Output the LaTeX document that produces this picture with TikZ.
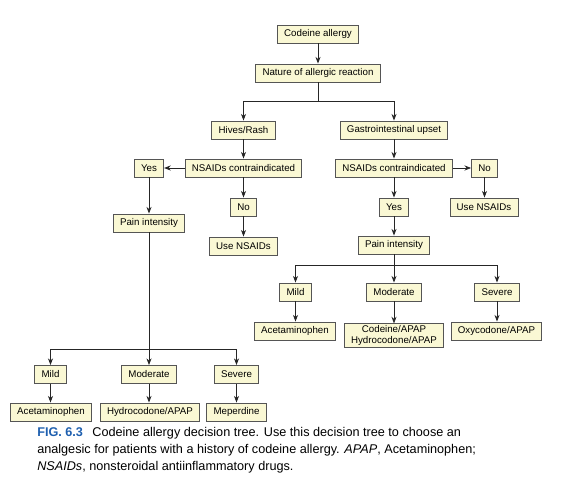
\documentclass[tikz,border=0pt]{standalone}
\usepackage{fontspec}
\setmainfont{Liberation Sans}
\usetikzlibrary{arrows.meta}
\definecolor{boxfill}{RGB}{250,248,212}
\definecolor{boxline}{RGB}{85,85,85}
\definecolor{figblue}{RGB}{30,95,175}

\begin{document}
\begin{tikzpicture}[x=0.75pt,y=-0.75pt,
		box/.style={draw=boxline, fill=boxfill, line width=0.7pt, font=\fontsize{7.3}{8.6}\selectfont, inner xsep=5pt, inner ysep=1pt, minimum height=13.5pt, align=center},
		arr/.style={-{Stealth[length=5pt,width=3.8pt]}, line width=0.6pt, draw=black!85}]
		\useasboundingbox (0,0) rectangle (564,478);
		% top of the tree
		\node[box] (codeine) at (318,34) {Codeine allergy};
		\node[box] (nature) at (318,73) {Nature of allergic reaction};
		\node[box] (hives) at (243.5,130) {Hives/Rash};
		\node[box] (gi) at (394,130) {Gastrointestinal upset};
		\coordinate (split) at (318,101);
		% left branch
		\node[box] (nsaidL) at (243.5,168) {NSAIDs contraindicated};
		\node[box] (yesL) at (149,168) {Yes};
		\node[box] (noL) at (243.5,207) {No};
		\node[box] (useL) at (243.5,246) {Use NSAIDs};
		\node[box] (painL) at (149,223) {Pain intensity};
		\coordinate (splitL) at (149,349);
		\node[box] (mildL) at (50.5,374.5) {Mild};
		\node[box] (modL) at (149,374.5) {Moderate};
		\node[box] (sevL) at (236.5,374.5) {Severe};
		\node[box] (acetL) at (51,412) {Acetaminophen};
		\node[box] (hydroL) at (150,412) {Hydrocodone/APAP};
		\node[box] (mepL) at (236.5,412) {Meperdine};
		% right branch
		\node[box] (nsaidR) at (394,168) {NSAIDs contraindicated};
		\node[box] (noR) at (484.5,168) {No};
		\node[box] (useR) at (484,207) {Use NSAIDs};
		\node[box] (yesR) at (394,207) {Yes};
		\node[box] (painR) at (394,245) {Pain intensity};
		\coordinate (splitR) at (394,265);
		\node[box] (mildR) at (295.5,292) {Mild};
		\node[box] (modR) at (394,292) {Moderate};
		\node[box] (sevR) at (497,292) {Severe};
		\node[box] (acetR) at (295,331) {Acetaminophen};
		\node[box] (codapR) at (394,335.5) {Codeine/APAP\\Hydrocodone/APAP};
		\node[box] (oxyR) at (496.5,331) {Oxycodone/APAP};
		% connectors
		\draw[arr] (codeine) -- (nature);
		\draw[arr, -] (nature) -- (split);
		\draw[arr] (split) -| (hives);
		\draw[arr] (split) -| (gi);
		\draw[arr] (hives) -- (nsaidL);
		\draw[arr] (nsaidL) -- (yesL);
		\draw[arr] (nsaidL) -- (noL);
		\draw[arr] (noL) -- (useL);
		\draw[arr] (yesL) -- (painL);
		\draw[arr, -] (painL) -- (splitL);
		\draw[arr] (splitL) -| (mildL);
		\draw[arr] (splitL) -- (modL);
		\draw[arr] (splitL) -| (sevL);
		\draw[arr] (mildL) -- (mildL |- acetL.north);
		\draw[arr] (modL) -- (modL |- hydroL.north);
		\draw[arr] (sevL) -- (sevL |- mepL.north);
		\draw[arr] (gi) -- (nsaidR);
		\draw[arr] (nsaidR) -- (noR);
		\draw[arr] (noR) -- (noR |- useR.north);
		\draw[arr] (nsaidR) -- (yesR);
		\draw[arr] (yesR) -- (painR);
		\draw[arr, -] (painR) -- (splitR);
		\draw[arr] (splitR) -| (mildR);
		\draw[arr] (splitR) -- (modR);
		\draw[arr] (splitR) -| (sevR);
		\draw[arr] (mildR) -- (mildR |- acetR.north);
		\draw[arr] (modR) -- (codapR);
		\draw[arr] (sevR) -- (sevR |- oxyR.north);
		% figure caption
		\node[anchor=north west, inner sep=0pt, align=left, font=\fontsize{9.5}{12.8}\selectfont] (figcap) at (37,427)
			{{\bfseries\color{figblue}FIG. 6.3}\hspace{7pt}Codeine allergy decision tree. Use this decision tree to choose an\\
			analgesic for patients with a history of codeine allergy. \textit{APAP}, Acetaminophen;\\
			\textit{NSAIDs}, nonsteroidal antiinflammatory drugs.};
	\end{tikzpicture}
\end{document}
